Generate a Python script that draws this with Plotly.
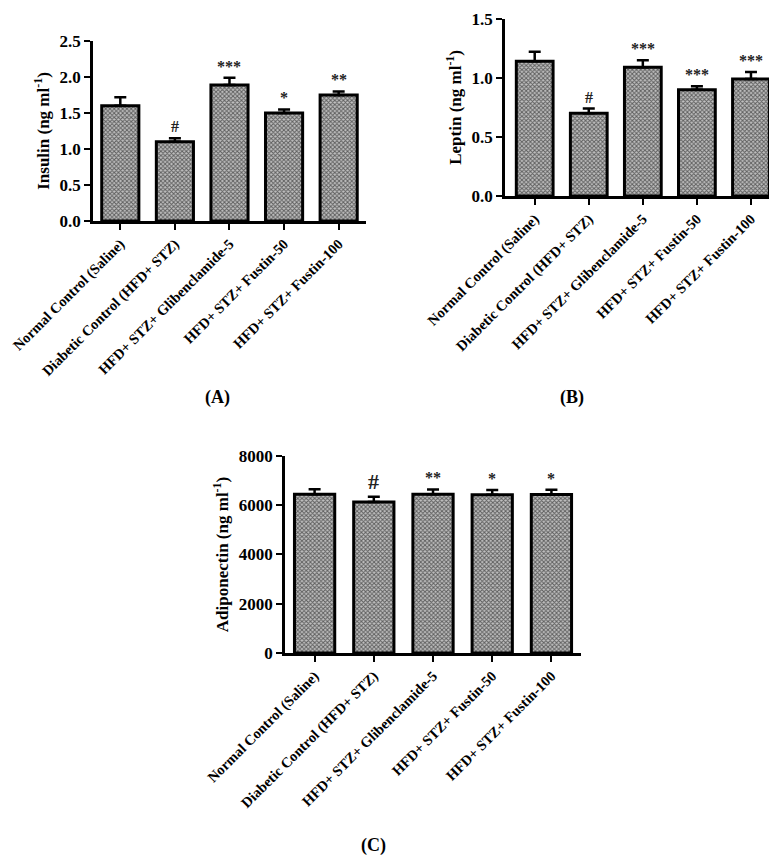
import plotly.graph_objects as go

groups = ["Normal Control (Saline)", "Diabetic Control (HFD+ STZ)",
          "HFD+ STZ+ Glibenclamide-5", "HFD+ STZ+ Fustin-50", "HFD+ STZ+ Fustin-100"]

insulin = [1.60, 1.10, 1.89, 1.50, 1.75]
insulin_err = [0.12, 0.05, 0.10, 0.05, 0.05]
insulin_sig = ["", "#", "***", "*", "**"]

leptin = [1.14, 0.70, 1.09, 0.90, 0.99]
leptin_err = [0.08, 0.04, 0.06, 0.03, 0.06]
leptin_sig = ["", "#", "***", "***", "***"]

adiponectin = [6450, 6130, 6450, 6430, 6440]
adiponectin_err = [200, 210, 190, 190, 190]
adiponectin_sig = ["", "#", "**", "*", "*"]

FONT = "Liberation Serif"

panels = [
    # values, errors, stars, y title, range, dtick, tickformat, x domain, y domain, label, label pos, range start
    (insulin, insulin_err, insulin_sig, "Insulin (ng ml<sup>-1</sup>)", [0, 2.5001], 0.5, ".1f",
     [0.1094, 0.4607], [0.7526, 0.9617], "(A)", (0.251, 0.548), -0.5),
    (leptin, leptin_err, leptin_sig, "Leptin (ng ml<sup>-1</sup>)", [0, 1.5001], 0.5, ".1f",
     [0.6396, 0.9910], [0.7816, 0.9875], "(B)", (0.744, 0.548), -0.55),
    (adiponectin, adiponectin_err, adiponectin_sig, "Adiponectin (ng ml<sup>-1</sup>)", [0, 8000.1], 2000, "d",
     [0.3565, 0.7375], [0.2509, 0.4797], "(C)", (0.470, 0.013), -0.5),
]

fig = go.Figure()
for i, (vals, errs, sig, ytitle, yr, dt, tf, xd, yd, lab, lpos, x0) in enumerate(panels):
    n = "" if i == 0 else str(i + 1)
    fig.add_trace(go.Bar(
        x=groups, y=vals, xaxis="x" + n, yaxis="y" + n, width=0.68,
        marker=dict(color="white", line=dict(color="black", width=3),
                    pattern=dict(shape="x", size=3, solidity=0.55,
                                 fgcolor="#000000", bgcolor="#c0c0c0")),
        error_y=dict(type="data", symmetric=False, array=errs, arrayminus=[0] * len(errs),
                     color="black", thickness=2.5, width=6),
        showlegend=False,
    ))
    for g, v, e, s in zip(groups, vals, errs, sig):
        if s:
            big = (s == "#" and i == 2)
            fig.add_annotation(x=g, y=v + e, xref="x" + n, yref="y" + n, text=s,
                               showarrow=False, yanchor="bottom", yshift=1,
                               font=dict(family=FONT, size=22 if big else 16,
                                         color="#222222", weight="bold"))
    fig.add_annotation(x=lpos[0], y=lpos[1], xref="paper", yref="paper", text=lab,
                       showarrow=False, font=dict(family=FONT, size=18, color="black", weight="bold"))
    fig.layout["xaxis" + n] = dict(
        domain=xd, anchor="y" + n, range=[x0, 4.5], tickangle=-45, automargin=False,
        showline=True, linecolor="black", linewidth=2.5, ticks="outside", ticklen=6,
        tickwidth=2, tickcolor="black",
        tickfont=dict(family=FONT, size=14.5, color="black", weight="bold"))
    fig.layout["yaxis" + n] = dict(
        domain=yd, anchor="x" + n, range=yr, dtick=dt, tickformat=tf, automargin=False,
        showline=True, linecolor="black", linewidth=2.5, ticks="outside", ticklen=6,
        tickwidth=2, tickcolor="black", showgrid=False, zeroline=False,
        tickfont=dict(family=FONT, size=17, color="black", weight="bold"),
        title=dict(text=ytitle, standoff=6,
                   font=dict(family=FONT, size=17, color="black", weight="bold")))

fig.update_layout(width=777, height=861, margin=dict(l=0, r=0, t=0, b=0),
                  paper_bgcolor="white", plot_bgcolor="white", bargap=0.3)
fig.write_html("out.html")
